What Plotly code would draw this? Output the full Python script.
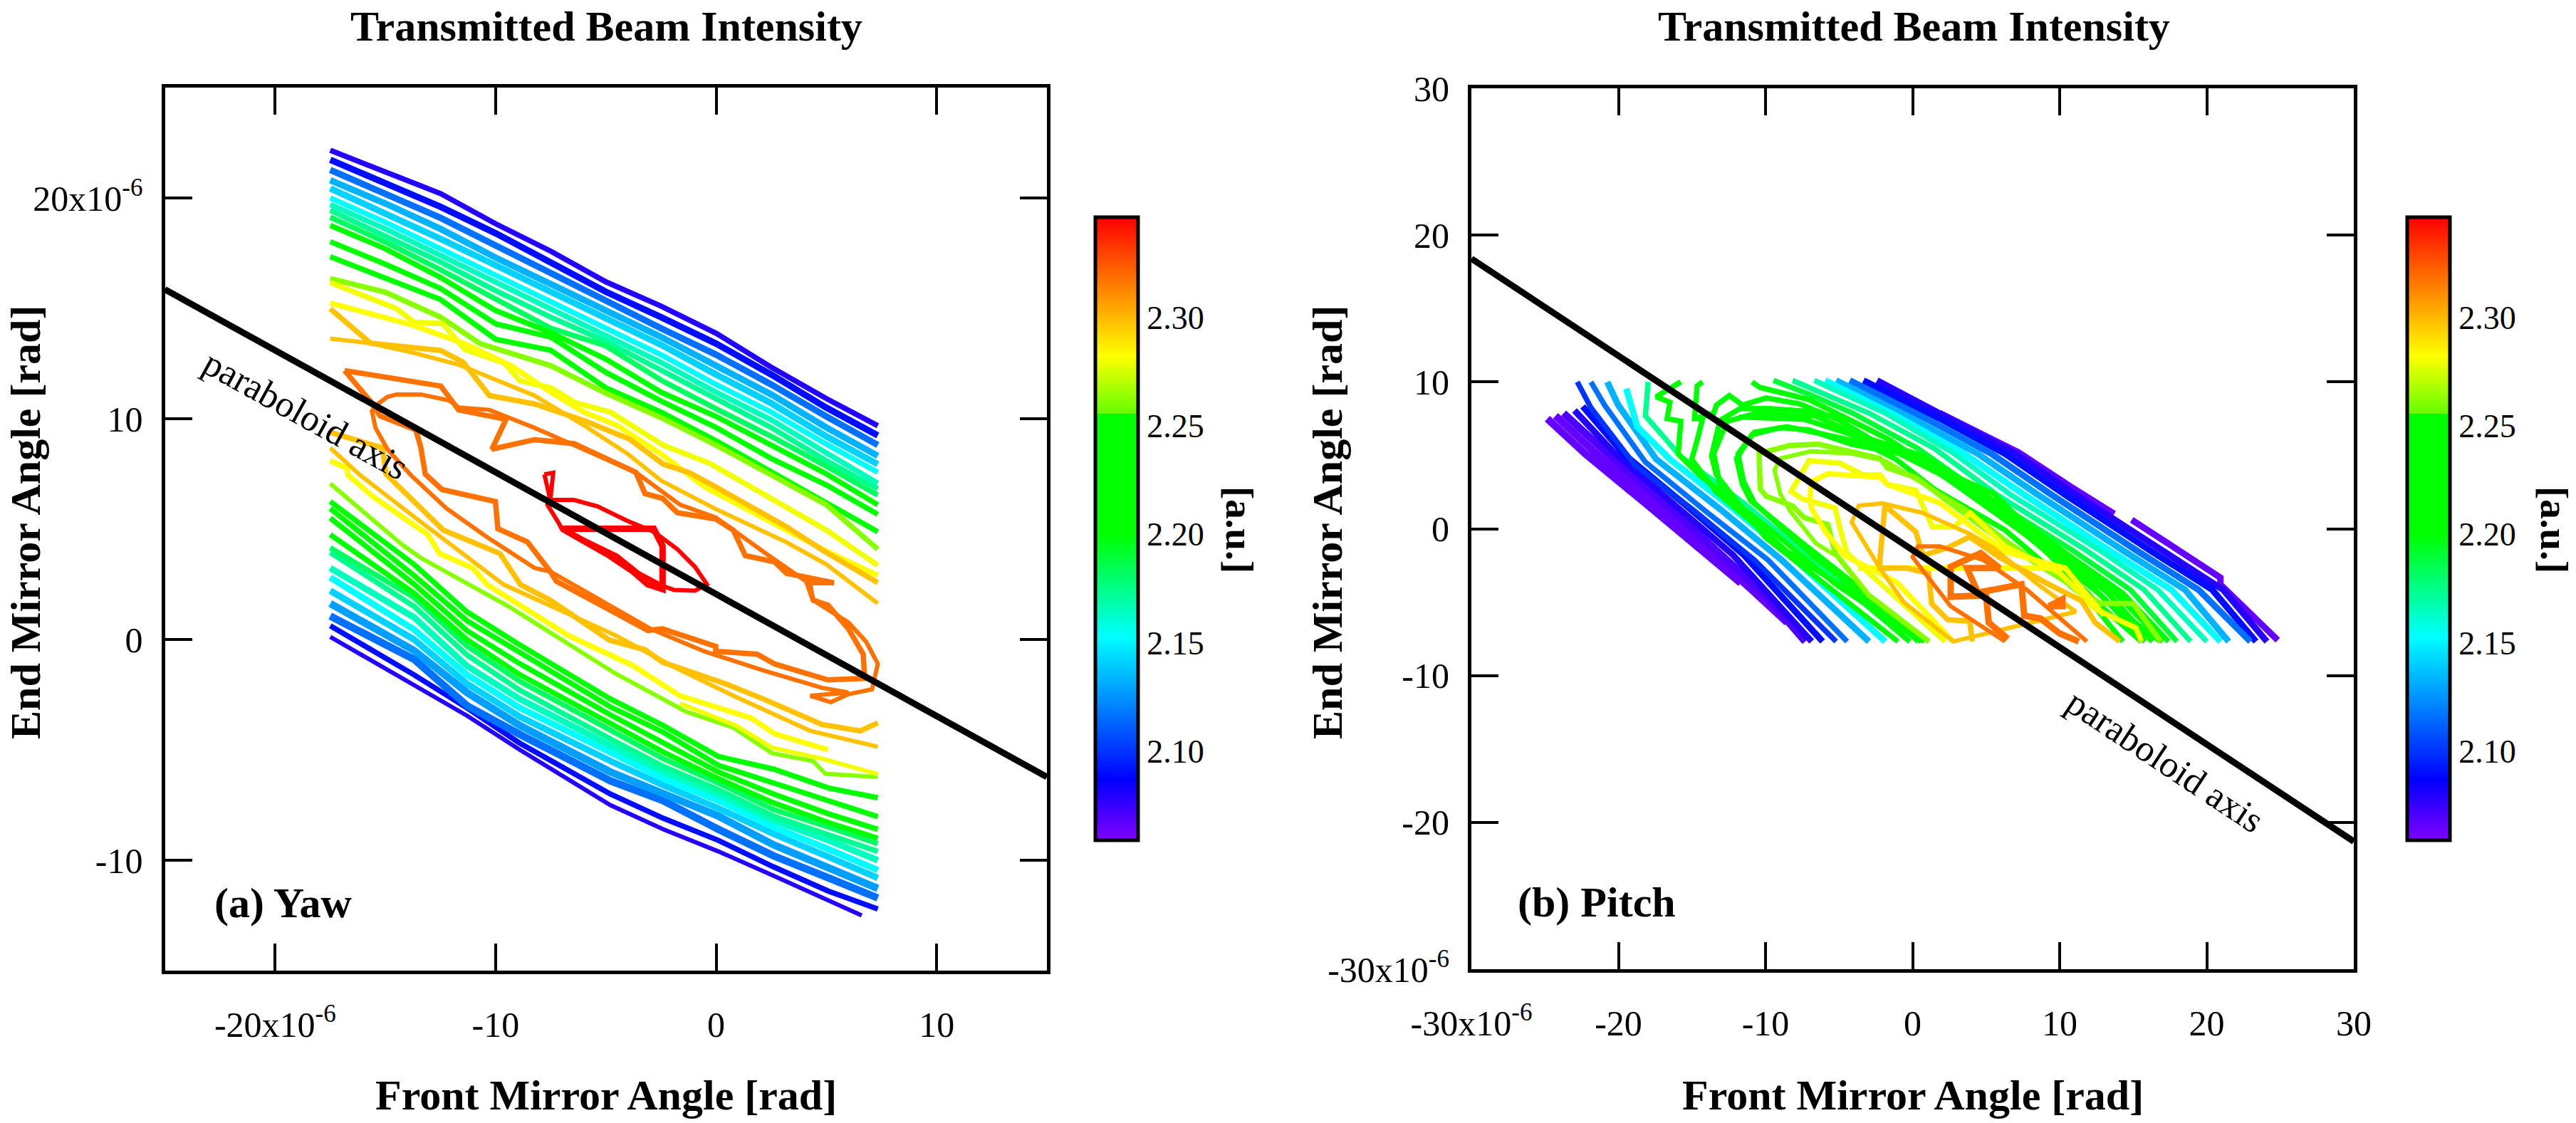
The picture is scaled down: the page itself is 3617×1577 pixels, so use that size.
import plotly.graph_objects as go
from plotly.colors import sample_colorscale

W, H = 3617, 1577
SERIF = "Liberation Serif"
CMIN, CMAX = 2.059, 2.3465
scale = [[0, "rgb(128,0,255)"], [0.097, "rgb(0,0,255)"], [0.327, "rgb(0,255,255)"],
         [0.49, "rgb(0,255,0)"], [0.685, "rgb(0,255,0)"], [0.6851, "rgb(100,255,0)"],
         [0.777, "rgb(255,255,0)"], [1, "rgb(255,0,0)"]]

# ---- axis lines -------------------------------------------------------
yaw_axis_x = [-25, 15]
yaw_axis_y = [15.86, -6.23]
pitch_axis_x = [-30, 30]
pitch_axis_y = [18.4, -21.3]

# ---- panel (a) upper family --------------------------------------------
yaw_grid = [-17.5, -15, -12.5, -10, -7.5, -5, -2.5, 0, 2.5, 5, 7.33]
yaw_u01 = [22.16, 21.2, 20.2, 18.83, 17.59, 16.2, 15.1, 13.87, 12.33, 10.91, 9.68]
yaw_u02 = [21.73, 20.7, 19.6, 18.4, 17.1, 15.75, 14.6, 13.4, 12.0, 10.5, 9.24]
yaw_u03 = [21.27, 20.2, 19.1, 17.85, 16.6, 15.3, 14.1, 12.9, 11.55, 10.1, 8.81]
yaw_u04 = [20.8, 19.75, 18.6, 17.3, 16.1, 14.9, 13.7, 12.4, 11.1, 9.6, 8.32]
yaw_u05 = [20.43, 19.3, 18.15, 16.95, 15.75, 14.5, 13.35, 12.0, 10.7, 9.2, 7.94]
yaw_u06 = [20.0, 18.9, 17.7, 16.5, 15.35, 14.1, 12.9, 11.55, 10.3, 8.85, 7.57]
yaw_u07 = [19.7, 18.6, 17.4, 16.2, 15.0, 13.8, 12.55, 11.2, 9.95, 8.45, 7.08]
yaw_u08 = [19.44, 18.3, 17.1, 15.8, 14.6, 13.5, 12.2, 10.85, 9.6, 8.1, 6.83]
yaw_u09 = [19.13, 18.0, 16.75, 15.4, 14.1, 13.3, 11.75, 10.45, 9.2, 7.85, 6.54]
yaw_u10 = [18.76, 17.7, 16.4, 14.9, 13.9, 12.7, 11.2, 10.1, 8.8, 7.5, 6.1]
yaw_u11 = [18.02, 17.0, 15.9, 14.3, 13.7, 12.1, 10.8, 9.6, 8.2, 7.0, 5.67]
yaw_u12 = [17.34, 16.4, 15.4, 13.6, 13.1, 11.4, 10.3, 9.0, 7.6, 6.2, 4.88]
yaw_u_levels = [2.079, 2.09, 2.116, 2.133, 2.141, 2.153, 2.165, 2.173, 2.182, 2.21, 2.22, 2.23]
yaw_u_widths = [5, 6, 6, 6, 6, 5, 5, 5, 5, 5, 5, 5]

yaw_lime_x = [-17.5, -15, -12.5, -10.7, -7.5, -5, -2.5, 0, 2.5, 5, 7.33]
yaw_lime_y = [16.35, 15.73, 14.6, 13.4, 12.4, 11.16, 10.05, 8.8, 7.45, 6.1, 4.09]
yaw_y1_x = [-17.5, -14.5, -13.7, -12.4, -11.4, -9.6, -8.9, -7.5, -6.4, -4.8, -2.4, -0.3, 5, 7.33]
yaw_y1_y = [16.17, 14.99, 14.37, 14.31, 13.14, 12.52, 11.72, 11.4, 10.73, 10.3, 8.8, 7.98, 4.95, 3.36]
yaw_y2_x = [-17.5, -13.8, -11.4, -9.3, -7.5, -6, -4.5, -2.5, -0.5, 2.5, 5, 7.33]
yaw_y2_y = [15.24, 14.25, 13.4, 12.4, 11.2, 10.3, 9.7, 8.4, 6.9, 5.3, 4.0, 2.9]
yaw_g1_x = [-17.5, -15.67, -12.49, -11.47, -10.28, -8.24, -6, -3.9, -2.4, -1.2, 0, 3.2, 4.9, 7.33]
yaw_g1_y = [14.98, 13.42, 13.09, 12.56, 11.05, 10.67, 9.92, 9.06, 7.94, 7.55, 6.9, 5.1, 4.0, 2.57]
yaw_g2_x = [-17.5, -15.67, -13.73, -11.68, -8.24, -6, -4, -2.5, 0, 3.2, 5, 7.33]
yaw_g2_y = [13.63, 13.42, 12.99, 12.45, 11.05, 9.7, 8.4, 7.2, 5.9, 4.4, 3.4, 1.63]

# ---- panel (a) central contours ----------------------------------------
yaw_o1_x = [-16.85, -12.49, -11.68, -9.53, -10.17, -8.24, -6.45, -3.64, -3.23, -2.43, -1.76, -0.02, 0.78, 1.32, 2.66, 3.19, 5.34, 4.13, 4.4, 5.07, 6.0, 6.67, 6.73, 5.07, 2.66, 1.86, -0.02, -0.02, -2.43, -3.1, -4.84, -7.25, -7.52, -8.56, -9.9, -10.01, -12.43, -13.19, -13.4, -13.62, -15.24, -15.67, -16.85]
yaw_o1_y = [12.18, 11.48, 10.4, 9.97, 8.62, 9.05, 8.87, 7.57, 6.61, 6.39, 5.74, 5.46, 4.95, 3.8, 3.51, 3.0, 2.57, 2.57, 1.78, 1.56, 0.48, -0.67, -1.76, -1.83, -1.11, -0.67, -0.53, -0.31, 0.48, 0.41, 1.35, 2.64, 3.08, 4.42, 5.02, 6.25, 6.79, 7.49, 8.73, 9.49, 10.13, 10.78, 12.18]
yaw_o2_x = [-15.34, -14.91, -14.48, -13.4, -12.11, -11.68, -10.28, -8.24, -3.64, -1.63, -0.02, 0.78, 2.39, 4.27, 4.4, 6.0, 6.8, 7.33, 7.07, 6.0, 5.2, 4.27, 6.0, 4.8, 2.13, -0.56, -2.97, -7.52, -8.24, -10.39, -12.22, -13.84, -14.91, -15.45, -15.61, -15.34]
yaw_o2_y = [10.67, 10.99, 11.1, 11.1, 10.83, 10.51, 10.4, 9.59, 7.57, 6.1, 5.53, 4.95, 3.8, 2.5, 1.78, 0.77, -0.1, -1.1, -2.26, -2.48, -2.84, -2.55, -2.4, -2.19, -1.4, -0.53, 0.48, 3.08, 3.24, 4.64, 5.93, 7.44, 8.62, 9.59, 10.35, 10.67]
yaw_r1_x = [-6.98, -2.83, -2.43, -2.43, -3.1, -3.77, -4.84, -6.98]
yaw_r1_y = [5.02, 5.02, 4.23, 2.28, 2.5, 3.08, 3.8, 5.02]
yaw_r2_x = [-7.79, -7.39, -7.52, -6.45, -5.38, -4.04, -2.83, -1.76, -0.96, -0.42, -0.96, -1.9, -2.43, -3.5, -4.5, -7.0, -7.12, -7.65, -7.52, -7.79]
yaw_r2_y = [7.48, 7.55, 6.32, 6.32, 6.03, 5.38, 4.88, 4.09, 3.29, 2.5, 2.21, 2.24, 2.43, 3.0, 3.8, 5.0, 5.24, 6.1, 6.32, 7.48]

# ---- panel (a) lower warm contours -------------------------------------
yaw_l1_x = [-17.5, -15.13, -14.97, -12.38, -9.8, -8.88, -7.52, -4.84, -3.23, -2.43, 0.51, 2.13, 4.8, 6.54, 7.33]
yaw_l1_y = [9.38, 8.68, 7.49, 4.96, 3.89, 2.49, 1.78, -0.03, -0.46, -1.03, -2.04, -2.69, -3.85, -4.14, -3.78]
yaw_l2_x = [-17.5, -16.2, -13.62, -11.04, -9.64, -4.57, -1.9, 0.78, 4.27, 7.33]
yaw_l2_y = [8.68, 7.49, 5.5, 3.56, 2.49, 0.19, -1.25, -2.55, -4.14, -4.86]
yaw_l3_x = [-17.5, -16.74, -16.69, -15.56, -13.08, -12.54, -11.04, -10.39, -6.72, -3.78, -1.64, 1.59, 2.66, 5.07]
yaw_l3_y = [8.09, 7.76, 7.44, 6.47, 4.75, 3.89, 3.24, 2.49, 0.19, -1.18, -2.55, -3.56, -4.28, -5.0]
yaw_l4_x = [-17.5, -14.27, -13.4, -9.4, -4.57, -1.36, 0.78, 2.53, 4.4, 4.95, 7.33]
yaw_l4_y = [7.06, 4.32, 3.7, 1.49, -1.54, -3.27, -3.99, -5.15, -5.51, -6.08, -6.23]
yaw_l5_x = [-1.64, 0.9, 2.53, 4.8, 7.33]
yaw_l5_y = [-2.9, -3.9, -4.9, -5.4, -6.1]

# ---- panel (a) lower family --------------------------------------------
yaw_lo_grid = [-17.5, -13.7, -11.3, -8.9, -4.8, -2.4, 0.1, 2.6, 5.1, 7.33]
yaw_d01_x = [-17.5, -13.7, -11.3, -8.9, -4.8, -2.4, 0.1, 2.6, 5.1, 6.6]
yaw_d01 = [0.12, -2.08, -3.45, -5.0, -7.5, -8.6, -9.6, -10.7, -11.8, -12.5]
yaw_d02 = [0.62, -1.6, -3.1, -4.7, -7.0, -8.1, -9.1, -10.3, -11.4, -12.21]
yaw_d03 = [1.06, -0.9, -3.0, -4.3, -6.4, -7.3, -8.6, -9.8, -10.8, -11.71]
yaw_d04 = [1.63, -0.5, -2.4, -3.9, -6.0, -7.0, -8.0, -9.3, -10.3, -11.28]
yaw_d05 = [2.21, 0.0, -2.0, -3.5, -5.5, -6.6, -7.65, -8.8, -9.85, -10.8]
yaw_d06 = [2.81, 0.45, -1.6, -3.1, -5.1, -6.3, -7.3, -8.5, -9.5, -10.45]
yaw_d07 = [3.24, 1.0, -1.2, -2.7, -4.8, -6.0, -7.0, -8.2, -9.1, -10.0]
yaw_d08 = [3.94, 1.5, -0.7, -2.3, -4.5, -5.75, -6.8, -8.0, -8.85, -9.6]
yaw_d09 = [4.15, 1.9, -0.3, -1.9, -4.1, -5.4, -6.5, -7.7, -8.5, -9.25]
yaw_d10 = [4.75, 2.1, 0.0, -1.6, -3.8, -5.1, -6.3, -7.4, -8.3, -9.0]
yaw_d11 = [5.5, 2.5, 0.4, -1.1, -3.41, -4.7, -6.0, -7.0, -7.9, -8.6]
yaw_d12 = [5.93, 2.9, 0.85, -0.6, -3.05, -4.2, -5.7, -6.5, -7.3, -8.03]
yaw_d13 = [6.25, 3.4, 1.25, -0.25, -2.69, -3.9, -5.3, -5.87, -6.73, -7.17]
yaw_d_levels = [2.079, 2.09, 2.116, 2.128, 2.141, 2.153, 2.165, 2.173, 2.182, 2.2, 2.21, 2.22, 2.23]
yaw_d_widths = [4, 5, 7, 7, 6, 6, 6, 5, 5, 5, 5, 5, 5]

# ---- panel (b) left limb contours --------------------------------------
pit_a01_x = [-24.84, -22.25, -17.98, -13.72, -11.68]
pit_a01_y = [7.5, 5.1, 1.58, -2.03, -3.7]
pit_a02_x = [-24.28, -21.69, -17.43, -13.35, -11.13, -8.53]
pit_a02_y = [7.69, 5.28, 1.67, -1.94, -3.98, -6.39]
pit_a03_x = [-23.73, -21.13, -16.87, -12.98, -10.01, -7.3]
pit_a03_y = [7.87, 5.47, 1.76, -1.76, -4.53, -7.68]
pit_a04_x = [-22.99, -20.39, -16.13, -12.24, -6.86]
pit_a04_y = [8.06, 5.28, 1.58, -1.76, -7.68]
pit_a05_x = [-22.43, -19.65, -15.39, -11.5, -6.12]
pit_a05_y = [8.34, 5.1, 1.58, -1.76, -7.68]
pit_a06_x = [-22.8, -21.87, -18.91, -14.83, -10.76, -5.2]
pit_a06_y = [10, 8.25, 4.36, 1.21, -2.13, -7.68]
pit_a07_x = [-21.87, -20.95, -18.17, -14.09, -9.83, -4.45]
pit_a07_y = [10, 8.43, 4.54, 1.21, -2.13, -7.68]
pit_a08_x = [-20.76, -20.02, -17.43, -13.16, -8.9, -2.97]
pit_a08_y = [10, 8.43, 4.73, 1.39, -2.13, -7.68]
pit_a09_x = [-19.47, -18.72, -16.5, -12.24, -7.98, -1.86]
pit_a09_y = [9.54, 6.95, 4.73, 1.39, -2.13, -7.68]
pit_a10_x = [-17.98, -18.17, -15.76, -11.5, -7.05, -0.19]
pit_a10_y = [10, 7.69, 4.91, 1.76, -1.94, -7.68]
pit_a11_x = [-15.76, -17.43, -16.5, -16.69, -15.76, -15.94, -14.46, -9.64, -5.2, 0.6]
pit_a11_y = [10, 8.99, 8.62, 7.5, 7.32, 5.1, 3.62, -0.09, -3.79, -7.68]
pit_a12_x = [-14.28, -14.65, -14.83, -14.28, -14.65, -15.02, -13.35, -8.53, -4.08, 1.11]
pit_a12_y = [10, 9.73, 7.5, 7.5, 6.02, 4.73, 2.5, -1.57, -4.35, -7.68]
pit_a_levels = [2.065, 2.065, 2.07, 2.079, 2.09, 2.10, 2.116, 2.133, 2.153, 2.173, 2.2, 2.21]
pit_a_widths = [7, 7, 7, 6, 6, 5, 5, 6, 6, 5, 5, 5]

# ---- panel (b) right limb contours -------------------------------------
pit_r01_x = [1.85, 7.22, 10.74, 13.71, None, 14.9, 20.93, 20.93, 24.83]
pit_r01_y = [7.88, 5.19, 2.87, 1.02, None, 0.61, -3.33, -3.79, -7.59]
pit_r02_x = [-2.42, 2.59, 7.04, 11.11, 17.04, 21.12, 24.09]
pit_r02_y = [10.1, 7.5, 5.1, 2.32, -1.57, -4.16, -7.68]
pit_r03_x = [-3.34, 1.85, 6.29, 10.37, 16.3, 20.38, 23.35]
pit_r03_y = [10.1, 7.5, 5.1, 2.32, -1.57, -4.16, -7.68]
pit_r04_x = [-4.27, 0.92, 5.37, 9.45, 15.37, 19.45, 22.97]
pit_r04_y = [10.1, 7.5, 5.1, 2.32, -1.57, -4.16, -7.68]
pit_r05_x = [-5.2, 0, 4.44, 8.52, 14.45, 18.53, 21.49]
pit_r05_y = [10.1, 7.5, 5.1, 2.32, -1.57, -4.16, -7.68]
pit_r06_x = [-5.94, -1.12, 3.51, 7.59, 13.52, 17.6, 20.93]
pit_r06_y = [10.1, 7.69, 5.1, 2.32, -1.57, -4.16, -7.68]
pit_r07_x = [-6.68, -1.86, 2.59, 6.67, 12.59, 16.67, 20.0]
pit_r07_y = [10.1, 7.88, 5.28, 2.32, -1.38, -4.16, -7.68]
pit_r08_x = [-8.16, -2.97, 1.48, 5.74, 11.67, 15.75, 18.9]
pit_r08_y = [10.1, 7.88, 5.47, 2.32, -1.38, -4.16, -7.68]
pit_r09_x = [-9.46, -7.05, -4.08, 0.36, 4.81, 10.74, 14.82, 17.97]
pit_r09_y = [10.1, 9.17, 7.88, 5.47, 2.32, -1.38, -4.16, -7.68]
pit_r10_x = [-10.92, -10.39, -7.05, -1.49, 3.7, 9.63, 13.34, 16.86]
pit_r10_y = [10, 9.63, 8.8, 6.02, 2.5, -1.38, -5.09, -7.68]
pit_r_levels = [2.065, 2.079, 2.09, 2.116, 2.133, 2.153, 2.165, 2.173, 2.19, 2.21]
pit_r_widths = [6, 6, 6, 6, 6, 6, 5, 5, 5, 5]

# ---- panel (b) closed inner contours ------------------------------------
pit_c0_x = [-14.83, -13.53, -13.34, -12.45, -11.57, -9.95, -7.69, -6.08, -4.95, -2.53, 1.5, 5.54, 9.9, 13.9, 17.0]
pit_c0_y = [7.5, 7.86, 8.42, 9.07, 8.42, 8.91, 8.51, 7.86, 7.38, 5.92, 4.15, 1.57, -1.6, -4.5, -7.68]
pit_c1_x = [-0.19, -4.08, -8.53, -12.98, -13.53, -12.61, -10.57, -7.79, -4.82, -1.86, 2.59, 8.52, 12.59, 15.56]
pit_c1_y = [-7.68, -4.35, -1.57, 2.5, 5.1, 7.32, 7.88, 7.69, 7.69, 6.21, 3.24, -1.0, -5.09, -7.68]
pit_c2_x = [0.4, -1.86, -6.68, -10.76, -11.5, -11.87, -10.76, -8.53, -6.31, -3.34, -1.12, 1.48, 6.29, 12.3, 14.3]
pit_c2_y = [-7.68, -5.65, -1.94, 1.76, 3.24, 5.1, 6.58, 6.95, 6.49, 5.84, 4.73, 2.69, -0.09, -5.2, -7.68]
pit_c3_x = [1.11, -3, -5.27, -5.76, -7.37, -8.18, -9.95, -10.36, -10.44, -8.34, -6.4, -2.2, -1.72, 0.22, 2.15, 6.29, 12.78, 15, 16.86]
pit_c3_y = [-7.68, -4.5, -1.66, 0.28, 0.76, 1.57, 2.21, 2.7, 5.12, 5.68, 5.76, 4.79, 4.15, 3.5, 2.05, -1.02, -5.09, -5.09, -7.68]
pit_c4_x = [2.22, -1.49, -4.47, -4.87, -5.27, -7.53, -8.26, -7.05, -4.95, -3.34, -2.2, -1.72, 0.22, 1.35, 2.8, 3.93, 6.29, 10.0, 12.41, 15.19, 15.56]
pit_c4_y = [-7.68, -4.35, -1.66, -0.21, 1.41, 2.05, 2.54, 4.63, 4.47, 3.66, 3.66, 3.02, 2.62, 0.12, 0.12, 1.08, -1.2, -3.0, -5.46, -6.76, -7.68]
pit_c5_x = [2.77, -1.12, -4.63, -5.92, -6.89, -6.97, -6.89, -5.76, -2.2, -1.72, 1.85, 6.29, 10.37, None, -3.71, 10.37, 13.0]
pit_c5_y = [-7.68, -3.61, -1.82, -0.21, 1.41, 2.21, 3.18, 3.75, 3.5, 3.02, 1.76, -1.57, -2.68, None, -2.68, -2.68, -5.9]
pit_c6_x = [4.07, 3.88, 2.4, 1.29, 1.1, -0.38, -2.23, -2.2, -1.88, 0.22, 0.7, 2.4, 3.88, 5.9, 9.26, 11.48, 12.41, 14.08]
pit_c6_y = [-7.68, -6.29, -6.2, -5.09, -3.05, -2.68, -2.68, -1.82, 1.57, -0.21, -1.82, -1.29, -0.55, -1.94, -3.79, -4.9, -6.39, -7.68]
pit_c7_x = [-2.23, -4.14, -3.66, -2.04, 0.7, 3.93, 5.54, 8.52, 11.1, 2.77, -0.6, -2.23]
pit_c7_y = [-2.68, 0.44, 1.57, 1.73, 1.08, -0.37, -1.34, -3.79, -5.65, -7.68, -5.0, -2.68]
pit_o1_x = [6.29, 2.59, 0, 0.36, 1.85, 4.81, 7.78, 11.85]
pit_o1_y = [-7.68, -5.28, -1.94, -1.2, -1.2, -2.13, -4.17, -7.68]
pit_o2_x = [6.48, 5.18, 4.99, 2.59, 2.59, 4.63, 5.92, 3.7, 4.44, 7.4, 7.59, 8.7, 10.0, 11.3]
pit_o2_y = [-7.5, -6.39, -4.53, -4.63, -2.59, -1.66, -2.68, -2.68, -4.35, -3.79, -5.92, -6.11, -7.13, -7.68]
pit_o3_x = [9.26, 10.19, 10.19, 9.26]
pit_o3_y = [-5.28, -4.81, -5.28, -5.28]
pit_e1_x = [-1, -6, -10, -13.34, -13.67, -13.1, -11.73, -9.79, -7.37, -5.76, -3.34, 0.7, 5.54, 10.2, 14.3, 17.4]
pit_e1_y = [-7.68, -3.8, -0.6, 3.66, 4.96, 7.38, 8.18, 8.18, 8.02, 7.3, 6.25, 4.96, 1.9, -1.5, -4.4, -7.68]
pit_e2_x = [-11.81, -9.79, -7.37, -4.14, -0.91, 5.54, 9.4, 13.2, 16.3]
pit_e2_y = [7.62, 7.54, 7.46, 6.41, 5.28, 2.37, -1.4, -4.3, -7.68]
pit_e3_x = [0.8, -3.4, -7.7, -11.0, -11.57, -11.97, -10.92, -8.98, -7.05, -4.14, -0.91, 2.31, 5.54, 9.0, 12.9, 15.8]
pit_e3_y = [-7.68, -4.2, -0.8, 1.9, 3.02, 4.79, 6.41, 6.89, 6.73, 5.76, 5.12, 3.5, 1.41, -1.5, -4.6, -7.68]
pit_e4_x = [-5.27, -6.56, -8.34, -8.99, -9.39, -8.99, -6.89, -4.14, -1.88, 0.5, 3.5, 6.5, 10.0, 12.4]
pit_e4_y = [-1.8, -1.01, 1.24, 2.37, 3.99, 4.79, 5.28, 5.12, 4.63, 3.2, 1.4, -0.9, -3.3, -5.2]

# ---- ticks --------------------------------------------------------------
yaw_xticks = [-20, -10, 0, 10]
yaw_xlabels = ["-20x10<sup>-6</sup>", "-10", "0", "10"]
yaw_yticks = [-10, 0, 10, 20]
yaw_ylabels = ["-10", "0", "10", "20x10<sup>-6</sup>"]
pit_ticks = [-30, -20, -10, 0, 10, 20, 30]
pit_labels = ["-30x10<sup>-6</sup>", "-20", "-10", "0", "10", "20", "30"]
cbar_ticks = [2.10, 2.15, 2.20, 2.25, 2.30]
cbar_labels = ["2.10", "2.15", "2.20", "2.25", "2.30"]

fig = go.Figure()
WIDTH_GAIN = 1.5


def colour(level):
    return sample_colorscale(scale, [(level - CMIN) / (CMAX - CMIN)])[0]


def draw(x, y, level, width, xa, ya):
    fig.add_trace(go.Scatter(x=x, y=y, mode="lines", xaxis=xa, yaxis=ya, showlegend=False, hoverinfo="skip",
                             line=dict(color=colour(level), width=width * WIDTH_GAIN, shape="linear"),
                             connectgaps=False))


yaw_upper = [yaw_u01, yaw_u02, yaw_u03, yaw_u04, yaw_u05, yaw_u06, yaw_u07, yaw_u08, yaw_u09, yaw_u10, yaw_u11, yaw_u12]
for ys, lv, w in zip(yaw_upper, yaw_u_levels, yaw_u_widths):
    draw(yaw_grid, ys, lv, w, "x", "y")
yaw_lower = [yaw_d01, yaw_d02, yaw_d03, yaw_d04, yaw_d05, yaw_d06, yaw_d07, yaw_d08, yaw_d09, yaw_d10, yaw_d11, yaw_d12, yaw_d13]
for i, (ys, lv, w) in enumerate(zip(yaw_lower, yaw_d_levels, yaw_d_widths)):
    draw(yaw_d01_x if i == 0 else yaw_lo_grid, ys, lv, w, "x", "y")
draw(yaw_lime_x, yaw_lime_y, 2.262, 5, "x", "y")
draw(yaw_y1_x, yaw_y1_y, 2.28, 5, "x", "y")
draw(yaw_y2_x, yaw_y2_y, 2.2825, 5, "x", "y")
draw(yaw_g1_x, yaw_g1_y, 2.298, 5, "x", "y")
draw(yaw_g2_x, yaw_g2_y, 2.298, 4, "x", "y")
draw(yaw_l4_x, yaw_l4_y, 2.262, 4, "x", "y")
draw(yaw_l5_x, yaw_l5_y, 2.28, 4, "x", "y")
draw(yaw_l3_x, yaw_l3_y, 2.2825, 5, "x", "y")
draw(yaw_l2_x, yaw_l2_y, 2.298, 4, "x", "y")
draw(yaw_l1_x, yaw_l1_y, 2.298, 5, "x", "y")
draw(yaw_o2_x, yaw_o2_y, 2.318, 4, "x", "y")
draw(yaw_o1_x, yaw_o1_y, 2.318, 5, "x", "y")
draw(yaw_r2_x, yaw_r2_y, 2.3465, 4, "x", "y")
draw(yaw_r1_x, yaw_r1_y, 2.3465, 6, "x", "y")

pit_left = [(pit_a01_x, pit_a01_y), (pit_a02_x, pit_a02_y), (pit_a03_x, pit_a03_y), (pit_a04_x, pit_a04_y),
            (pit_a05_x, pit_a05_y), (pit_a06_x, pit_a06_y), (pit_a07_x, pit_a07_y), (pit_a08_x, pit_a08_y),
            (pit_a09_x, pit_a09_y), (pit_a10_x, pit_a10_y), (pit_a11_x, pit_a11_y), (pit_a12_x, pit_a12_y)]
for (xs, ys), lv, w in zip(pit_left, pit_a_levels, pit_a_widths):
    draw(xs, ys, lv, w, "x2", "y2")
pit_right = [(pit_r01_x, pit_r01_y), (pit_r02_x, pit_r02_y), (pit_r03_x, pit_r03_y), (pit_r04_x, pit_r04_y),
             (pit_r05_x, pit_r05_y), (pit_r06_x, pit_r06_y), (pit_r07_x, pit_r07_y), (pit_r08_x, pit_r08_y),
             (pit_r09_x, pit_r09_y), (pit_r10_x, pit_r10_y)]
for (xs, ys), lv, w in zip(pit_right, pit_r_levels, pit_r_widths):
    draw(xs, ys, lv, w, "x2", "y2")
draw(pit_c0_x, pit_c0_y, 2.21, 5, "x2", "y2")
draw(pit_c1_x, pit_c1_y, 2.21, 5, "x2", "y2")
draw(pit_e1_x, pit_e1_y, 2.215, 5, "x2", "y2")
draw(pit_e2_x, pit_e2_y, 2.22, 5, "x2", "y2")
draw(pit_e3_x, pit_e3_y, 2.23, 5, "x2", "y2")
draw(pit_c2_x, pit_c2_y, 2.22, 5, "x2", "y2")
draw(pit_c3_x, pit_c3_y, 2.262, 5, "x2", "y2")
draw(pit_e4_x, pit_e4_y, 2.262, 4, "x2", "y2")
draw(pit_c4_x, pit_c4_y, 2.28, 5, "x2", "y2")
draw(pit_c5_x, pit_c5_y, 2.2825, 5, "x2", "y2")
draw(pit_c6_x, pit_c6_y, 2.298, 5, "x2", "y2")
draw(pit_c7_x, pit_c7_y, 2.298, 4, "x2", "y2")
draw(pit_o1_x, pit_o1_y, 2.318, 4, "x2", "y2")
draw(pit_o2_x, pit_o2_y, 2.318, 6, "x2", "y2")
draw(pit_o3_x, pit_o3_y, 2.318, 6, "x2", "y2")

draw_black = dict(mode="lines", showlegend=False, hoverinfo="skip", line=dict(color="black", width=9))
fig.add_trace(go.Scatter(x=yaw_axis_x, y=yaw_axis_y, xaxis="x", yaxis="y", **draw_black))
fig.add_trace(go.Scatter(x=pitch_axis_x, y=pitch_axis_y, xaxis="x2", yaxis="y2", **draw_black))


def cbar(px_left):
    return dict(x=px_left / W, xref="paper", xanchor="left", xpad=0, y=1 - 742 / H, yref="paper", yanchor="middle",
                ypad=0, lenmode="pixels", len=875, thicknessmode="pixels", thickness=60, outlinewidth=5,
                outlinecolor="black", borderwidth=0, tickmode="array", tickvals=cbar_ticks, ticktext=cbar_labels,
                ticks="", tickfont=dict(family=SERIF, size=46, color="black"), ticklabelposition="outside")


for xa, ya, left in (("x", "y", 1538), ("x2", "y2", 3380)):
    fig.add_trace(go.Scatter(x=[None, None], y=[None, None], xaxis=xa, yaxis=ya, mode="markers", showlegend=False,
                             hoverinfo="skip",
                             marker=dict(color=[CMIN, CMAX], cmin=CMIN, cmax=CMAX, colorscale=scale, size=1,
                                         showscale=True, colorbar=cbar(left))))

axis_common = dict(showgrid=False, zeroline=False, showline=True, linecolor="black", linewidth=5, mirror="ticks",
                   ticks="inside", ticklen=38, tickwidth=4, tickcolor="black", tickmode="array",
                   tickfont=dict(family=SERIF, size=50, color="black"), layer="below traces")

fig.update_layout(
    width=W, height=H, autosize=False, paper_bgcolor="white", plot_bgcolor="white",
    margin=dict(l=0, r=0, t=0, b=0, autoexpand=False), showlegend=False,
    xaxis=dict(domain=[231.5 / W, 1470 / W], range=[-25, 15], tickvals=yaw_xticks, ticktext=yaw_xlabels,
               ticklabelstandoff=28, anchor="y", **axis_common),
    yaxis=dict(domain=[1 - 1363 / H, 1 - 123 / H], range=[-15, 25], tickvals=yaw_yticks, ticktext=yaw_ylabels,
               ticklabelstandoff=16, anchor="x", **axis_common),
    xaxis2=dict(domain=[2066 / W, 3305 / W], range=[-30, 30], tickvals=pit_ticks, ticktext=pit_labels,
                ticklabelstandoff=28, anchor="y2", **axis_common),
    yaxis2=dict(domain=[1 - 1361 / H, 1 - 124 / H], range=[-30, 30], tickvals=pit_ticks, ticktext=pit_labels,
                ticklabelstandoff=16, anchor="x2", **axis_common),
)


def label(text, px, py, size, bold=False, angle=0):
    fig.add_annotation(text=f"<b>{text}</b>" if bold else text, x=px / W, y=1 - py / H, xref="paper", yref="paper",
                       showarrow=False, textangle=angle, xanchor="center", yanchor="middle",
                       font=dict(family=SERIF, size=size, color="black"))


label("Transmitted Beam Intensity", 851, 37, 60, True)
label("Transmitted Beam Intensity", 2687, 37, 60, True)
label("Front Mirror Angle [rad]", 851, 1538, 60, True)
label("Front Mirror Angle [rad]", 2686, 1538, 60, True)
label("End Mirror Angle [rad]", 36, 734, 60, True, -90)
label("End Mirror Angle [rad]", 1864, 734, 60, True, -90)
label("[a.u.]", 1741, 744, 55, True, 90)
label("[a.u.]", 3587, 744, 55, True, 90)
label("(a) Yaw", 397, 1268, 60, True)
label("(b) Pitch", 2242, 1267, 60, True)
label("paraboloid axis", 429, 582, 52, False, 29)
label("paraboloid axis", 3040, 1068, 52, False, 33.5)

fig.write_html("out.html", post_script="document.body.style.margin='0';", config={"displayModeBar": False})
